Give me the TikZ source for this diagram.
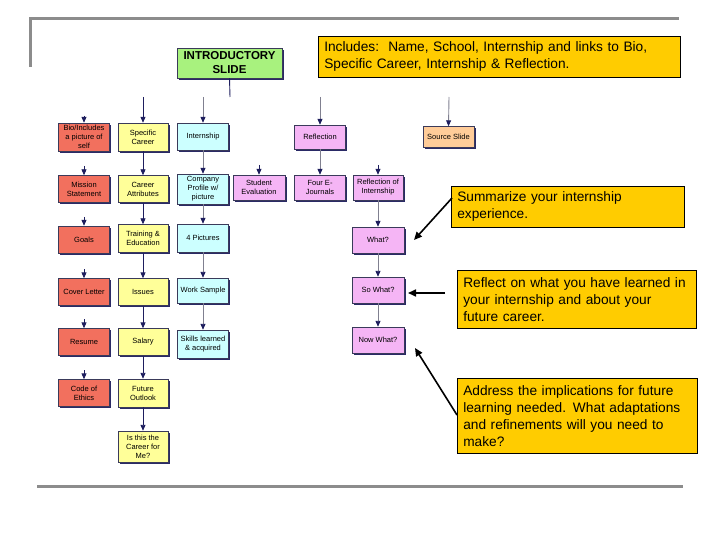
\documentclass[tikz,border=0pt]{standalone}
\usepackage{fontspec}
\setmainfont{Liberation Sans}
\usetikzlibrary{arrows.meta,shadows}
\definecolor{salmon}{HTML}{F2705E}
\definecolor{paleyellow}{HTML}{FFFF99}
\definecolor{palecyan}{HTML}{CCFFFF}
\definecolor{palepink}{HTML}{F5B5F5}
\definecolor{peach}{HTML}{FFCC99}
\definecolor{palegreen}{HTML}{A8F27E}
\definecolor{gold}{HTML}{FFCC00}
\definecolor{navy}{HTML}{1E1E5E}
\definecolor{edgec}{HTML}{3A3A5A}
\definecolor{shadowc}{HTML}{2A2A66}
\definecolor{framec}{HTML}{8C8C8C}
\definecolor{linegray}{HTML}{808090}
\begin{document}
\begin{tikzpicture}[x=1pt,y=-1pt,
  box/.style={draw=edgec, line width=0.4pt, inner sep=1pt, align=center,
    font=\fontsize{7.5}{9}\selectfont, minimum width=51pt, minimum height=27pt,
    drop shadow={shadow xshift=1.6pt, shadow yshift=-1.6pt, fill=shadowc, opacity=1}},
  redbox/.style={box, fill=salmon},
  yelbox/.style={box, fill=paleyellow},
  cyabox/.style={box, fill=palecyan},
  pinkbox/.style={box, fill=palepink},
  callout/.style={draw=black, line width=0.6pt, fill=gold, align=left, anchor=north west,
    font=\fontsize{13.7}{17}\selectfont, inner xsep=6pt, inner ysep=3pt},
  navyline/.style={draw=navy, line width=0.9pt, -{Triangle[length=6pt,width=5pt]}},
  grayline/.style={draw=linegray, line width=0.9pt, -{Triangle[length=6pt,width=5pt,fill=navy,color=navy]}},
  blackarrow/.style={draw=black, line width=1.6pt, -{Triangle[length=8pt,width=7pt]}},
  framel/.style={draw=framec, line width=3pt}
]
\useasboundingbox (0,0) rectangle (720,540);
% frame
\coordinate (fa) at (30,67);
\coordinate (fb) at (30,19);
\coordinate (fc) at (679,19);
\coordinate (fd) at (37,486);
\coordinate (fe) at (683,486);
\draw[framel] (fa) -- (fb) -- (fc);
\draw[framel] (fd) -- (fe);

% introductory slide
\node[box, fill=palegreen, minimum width=105pt, minimum height=30pt,
  font=\fontsize{11.5}{14}\selectfont\bfseries] (intro) at (229.5,63) {INTRODUCTORY\\SLIDE};

% column 1
\node[redbox, minimum height=28pt] (bio) at (84,137) {Bio/Includes\\a picture of\\self};
\node[redbox] (mission) at (84,189) {Mission\\Statement};
\node[redbox] (goals) at (84,239.5) {Goals};
\node[redbox] (cover) at (84,292) {Cover Letter};
\node[redbox] (resume) at (84,342) {Resume};
\node[redbox] (ethics) at (84,393) {Code of\\Ethics};
% column 2
\node[yelbox, minimum width=50pt, minimum height=28pt] (spec) at (143,137) {Specific\\Career};
\node[yelbox, minimum width=50pt] (attr) at (143,189) {Career\\Attributes};
\node[yelbox, minimum width=50pt, minimum height=28pt] (train) at (143,238.5) {Training \&\\Education};
\node[yelbox, minimum width=50pt] (issues) at (143,292) {Issues};
\node[yelbox, minimum width=50pt] (salary) at (143,342) {Salary};
\node[yelbox, minimum width=50pt, minimum height=28pt] (future) at (143,393) {Future\\Outlook};
\node[yelbox, minimum width=50pt, minimum height=31pt] (isthis) at (143,446.5) {Is this the\\Career for\\Me?};
% column 3
\node[cyabox] (intern) at (203,136.5) {Internship};
\node[cyabox, minimum height=30pt] (company) at (203,189) {Company\\Profile w/\\picture};
\node[cyabox, minimum height=28pt] (pics) at (203,238) {4 Pictures};
\node[cyabox, minimum height=25pt] (work) at (203,290.5) {Work Sample};
\node[cyabox, minimum height=28pt] (skills) at (203,344) {Skills learned\\\& acquired};
% column 4
\node[pinkbox, minimum width=52pt, minimum height=25pt] (student) at (259,187.5) {Student\\Evaluation};
% column 5
\node[pinkbox, minimum height=24pt] (refl) at (320,137) {Reflection};
\node[pinkbox, minimum height=25pt] (four) at (320,187.5) {Four E-\\Journals};
% column 6
\node[pinkbox, minimum width=50pt, minimum height=25pt] (reflint) at (378,187.5) {Reflection of\\Internship};
\node[pinkbox, minimum width=52pt, minimum height=26pt] (what) at (378,240) {What?};
\node[pinkbox, minimum width=52pt, minimum height=26pt] (sowhat) at (378,290) {So What?};
\node[pinkbox, minimum width=52pt, minimum height=26pt] (nowhat) at (378,340) {Now What?};
% source slide
\node[box, fill=peach, minimum width=51pt, minimum height=21pt] (source) at (448.5,137) {Source Slide};

% top connectors
\coordinate (introend) at (230,97);
\draw[navyline, -] (intro.south) -- (introend);
\coordinate (t1) at (84,116);
\coordinate (t2) at (143,97);
\coordinate (t3) at (203,97);
\coordinate (t5) at (320,97);
\coordinate (t7) at (449,97);
\draw[navyline] (t1) -- (bio.north);
\draw[navyline] (t2) -- (spec.north);
\draw[grayline] (t3) -- (intern.north);
\draw[grayline] (t5) -- (refl.north);
\draw[grayline] (t7) -- (source.north);

% column 1 stubs
\coordinate (s1) at (84,166);
\coordinate (s2) at (84,217);
\coordinate (s3) at (84,269);
\coordinate (s4) at (84,319);
\coordinate (s5) at (84,370);
\draw[navyline] (s1) -- (mission.north);
\draw[navyline] (s2) -- (goals.north);
\draw[navyline] (s3) -- (cover.north);
\draw[navyline] (s4) -- (resume.north);
\draw[navyline] (s5) -- (ethics.north);
% other stubs
\coordinate (s6) at (259,165);
\coordinate (s7) at (378,165);
\draw[navyline] (s6) -- (student.north);
\draw[navyline] (s7) -- (reflint.north);

% column 2 chain
\draw[navyline] (spec) -- (attr);
\draw[navyline] (attr) -- (train);
\draw[navyline] (train) -- (issues);
\draw[navyline] (issues) -- (salary);
\draw[navyline] (salary) -- (future);
\draw[navyline] (future) -- (isthis);
% column 3 chain
\draw[grayline] (intern) -- (company);
\draw[grayline] (company) -- (pics);
\draw[grayline] (pics) -- (work);
\draw[grayline] (work) -- (skills);
% column 5
\draw[grayline] (refl) -- (four);
% column 6
\draw[grayline] (reflint) -- (what);
\draw[grayline] (what) -- (sowhat);
\draw[grayline] (sowhat) -- (nowhat);

% callouts
\node[callout, text width=350pt, minimum height=41pt] (inc) at (318,36)
  {Includes:\ \ Name, School, Internship and links to Bio,\\Specific Career, Internship \& Reflection.};
\node[callout, text width=221pt, minimum height=41pt] (summ) at (451,186)
  {Summarize your internship\\experience.};
\node[callout, text width=227pt, minimum height=58pt] (reflect) at (457,270)
  {Reflect on what you have learned in\\your internship and about your\\future career.};
\node[callout, text width=228pt, minimum height=75pt] (address) at (457,378)
  {Address the implications for future\\learning needed. What adaptations\\and refinements will you need to\\make?};

% callout arrows
\coordinate (a1) at (452,198);
\coordinate (a2) at (445,293);
\coordinate (a3) at (457,415);
\coordinate (h1) at (414,240);
\coordinate (h2) at (408,293);
\coordinate (h3) at (415,348);
\draw[blackarrow] (a1) -- (h1);
\draw[blackarrow] (a2) -- (h2);
\draw[blackarrow] (a3) -- (h3);
\end{tikzpicture}
\end{document}
